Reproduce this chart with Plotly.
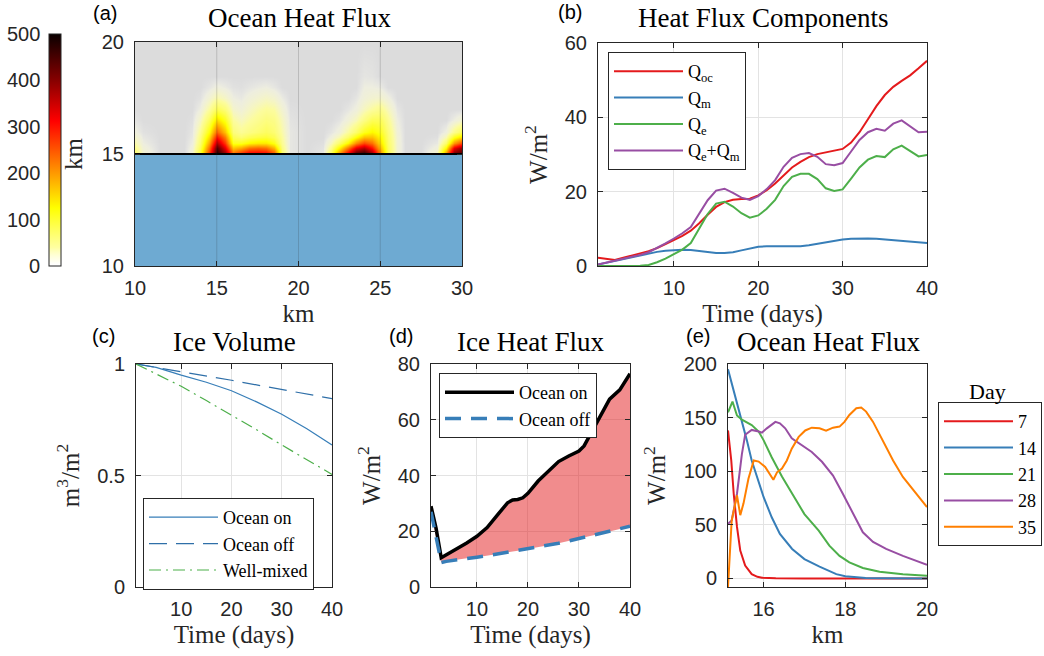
import plotly.graph_objects as go

W, H = 1044, 656

# ---------------- data ----------------
# (a) ocean heat flux field above the ice edge (W/m^2)
heat_x = [10.0, 10.5, 11.5, 13.0, 13.5, 14.0, 14.5, 15.0, 15.5, 16.0, 16.5, 17.0,
          17.5, 18.0, 18.5, 19.0, 19.5, 20.5, 21.5, 22.0, 22.5, 23.0, 23.5, 24.0,
          24.5, 25.0, 25.5, 26.0, 26.5, 27.5, 28.5, 29.0, 29.5, 30.0]
heat_y = [15.0, 15.25, 15.5, 15.75, 16.0, 16.5, 17.0, 17.5, 18.0, 18.5, 20.0]
heat_cols = [
    [70, 50, 35, 22, 12, 4, 0, 0, 0, 0, 0],           # 10.0
    [20, 15, 10, 6, 3, 0, 0, 0, 0, 0, 0],             # 10.5
    [0, 0, 0, 0, 0, 0, 0, 0, 0, 0, 0],                # 11.5
    [0, 0, 0, 0, 0, 0, 0, 0, 0, 0, 0],                # 13.0
    [18, 14, 10, 7, 5, 2, 0, 0, 0, 0, 0],             # 13.5
    [100, 80, 65, 55, 45, 25, 10, 3, 0, 0, 0],        # 14.0
    [270, 230, 190, 150, 120, 75, 40, 18, 5, 0, 0],   # 14.5
    [480, 440, 370, 300, 240, 150, 80, 35, 12, 0, 0], # 15.0
    [400, 330, 270, 220, 170, 110, 60, 25, 8, 0, 0],  # 15.5
    [240, 170, 110, 80, 60, 40, 22, 10, 3, 0, 0],     # 16.0
    [290, 190, 110, 65, 45, 28, 15, 7, 2, 0, 0],      # 16.5
    [330, 230, 130, 80, 55, 38, 25, 14, 5, 0, 0],     # 17.0
    [330, 240, 140, 90, 65, 48, 35, 20, 8, 0, 0],     # 17.5
    [320, 230, 140, 95, 75, 58, 42, 25, 10, 0, 0],    # 18.0
    [260, 180, 115, 80, 65, 52, 38, 20, 6, 0, 0],     # 18.5
    [70, 55, 45, 40, 35, 28, 18, 8, 0, 0, 0],         # 19.0
    [6, 6, 6, 6, 6, 4, 2, 0, 0, 0, 0],                # 19.5
    [0, 0, 0, 0, 0, 0, 0, 0, 0, 0, 0],                # 20.5
    [6, 4, 2, 0, 0, 0, 0, 0, 0, 0, 0],                # 21.5
    [80, 50, 28, 12, 5, 0, 0, 0, 0, 0, 0],            # 22.0
    [210, 130, 70, 32, 14, 4, 0, 0, 0, 0, 0],         # 22.5
    [330, 230, 130, 70, 40, 15, 5, 0, 0, 0, 0],       # 23.0
    [450, 330, 210, 120, 70, 30, 12, 5, 0, 0, 0],     # 23.5
    [480, 370, 260, 170, 110, 55, 28, 15, 10, 5, 0],  # 24.0
    [400, 300, 230, 170, 130, 80, 40, 20, 10, 4, 0],  # 24.5
    [220, 180, 150, 130, 110, 80, 50, 22, 8, 0, 0],   # 25.0
    [80, 75, 70, 65, 60, 45, 28, 12, 0, 0, 0],        # 25.5
    [18, 18, 18, 17, 15, 10, 5, 0, 0, 0, 0],          # 26.0
    [0, 0, 0, 0, 0, 0, 0, 0, 0, 0, 0],                # 26.5
    [0, 0, 0, 0, 0, 0, 0, 0, 0, 0, 0],                # 27.5
    [25, 14, 7, 2, 0, 0, 0, 0, 0, 0, 0],              # 28.5
    [210, 130, 70, 32, 12, 0, 0, 0, 0, 0, 0],         # 29.0
    [420, 330, 200, 110, 50, 10, 0, 0, 0, 0, 0],      # 29.5
    [450, 390, 260, 150, 80, 20, 0, 0, 0, 0, 0],      # 30.0
]
ice_x = [10, 30]
ice_edge = [15, 15]
cbar_ticks = [0, 100, 200, 300, 400, 500]

# (b) heat flux components
days = [1, 2, 3, 4, 5, 6, 7, 8, 9, 10, 11, 12, 13, 14, 15, 16, 17, 18, 19, 20,
        21, 22, 23, 24, 25, 26, 27, 28, 29, 30, 31, 32, 33, 34, 35, 36, 37, 38, 39, 40]
q_oc = [2.2, 1.8, 1.6, 2.2, 2.9, 3.4, 4.0, 4.8, 5.9, 7.0, 8.1, 9.5, 11.5, 13.8, 15.9,
        17.2, 17.8, 18.0, 18.1, 19.0, 20.4, 22.2, 24.4, 26.5, 28.0, 29.3, 30.1, 30.6,
        30.9, 31.5, 33.2, 36.0, 39.5, 43.0, 46.0, 48.2, 49.8, 51.3, 53.2, 55.2]
q_m = [0.4, 0.9, 1.4, 1.9, 2.4, 2.9, 3.4, 3.8, 4.1, 4.3, 4.4, 4.3, 4.0, 3.7, 3.5,
       3.5, 3.7, 4.2, 4.8, 5.2, 5.3, 5.3, 5.2, 5.1, 5.3, 5.6, 6.0, 6.5, 6.9, 7.1,
       7.3, 7.4, 7.4, 7.3, 7.1, 6.9, 6.8, 6.7, 6.5, 6.2]
q_e = [0.0, 0.0, 0.0, 0.0, 0.05, 0.1, 0.3, 1.0, 2.0, 3.1, 4.4, 6.2, 10.0, 14.0, 16.8,
       17.3, 16.0, 14.2, 13.0, 13.6, 15.4, 17.8, 21.5, 24.0, 24.8, 24.8, 23.4, 20.9,
       20.2, 20.6, 23.5, 26.5, 28.6, 29.6, 29.3, 31.4, 32.4, 31.0, 29.5, 29.9]
q_em = [0.4, 0.9, 1.4, 1.9, 2.5, 3.0, 3.7, 4.8, 6.1, 7.4, 8.8, 10.5, 14.0, 17.7, 20.3,
        20.8, 19.7, 18.4, 17.8, 18.8, 20.7, 23.1, 26.7, 29.1, 30.1, 30.4, 29.4, 27.4,
        27.1, 27.7, 30.8, 33.9, 36.0, 36.9, 36.4, 38.3, 39.2, 37.7, 36.0, 36.1]

# (c) ice volume
vol_days = [1, 5, 10, 15, 20, 25, 30, 35, 40]
vol_on = [1.0, 0.985, 0.95, 0.918, 0.88, 0.83, 0.775, 0.71, 0.637]
vol_off = [1.0, 0.985, 0.965, 0.947, 0.927, 0.906, 0.885, 0.865, 0.845]
vol_mixed = [1.0, 0.955, 0.9, 0.836, 0.772, 0.705, 0.637, 0.57, 0.505]

# (d) ice heat flux
ihf_days = [1, 2, 3, 4, 6, 8, 10, 12, 14, 16, 17, 18, 19, 20, 22, 24, 26, 28, 30,
            31, 32, 33, 34, 35, 36, 38, 40]
ihf_on = [29, 21, 10.5, 11.5, 13.6, 15.8, 18.2, 21.3, 25.8, 30.2, 31.2, 31.4, 32.0,
          33.6, 38.0, 41.7, 45.0, 47.0, 48.8, 50.6, 54.0, 57.3, 61.2, 64.5, 67.4, 70.7, 76.5]
ihf_off = [27, 18, 8.8, 9.2, 9.8, 10.3, 10.7, 11.2, 11.8, 12.4, 12.7, 13.0, 13.3,
           13.7, 14.3, 15.0, 15.7, 16.5, 17.4, 17.8, 18.2, 18.6, 19.0, 19.4, 19.9, 20.8, 21.8]

# (e) ocean heat flux profiles by day
km_d7 = [15.13, 15.21, 15.27, 15.35, 15.43, 15.55, 15.71, 15.85, 15.96, 16.3, 17.0, 20.0]
q_d7 = [138, 110, 79, 48, 26, 12, 4, 1.5, 0.6, 0.1, 0.0, 0.0]
km_d14 = [15.13, 15.31, 15.47, 15.59, 15.71, 15.88, 16.0, 16.2, 16.4, 16.7, 17.0,
          17.37, 17.78, 18.0, 18.5, 19.0, 20.0]
q_d14 = [195, 170, 148, 129, 110, 90, 76, 57, 41.5, 27.5, 18, 11, 4, 2, 0.5, 0.1, 0.0]
km_d21 = [15.13, 15.24, 15.35, 15.47, 15.71, 15.88, 16.0, 16.2, 16.45, 16.7, 17.0,
          17.35, 17.61, 17.86, 18.1, 18.43, 18.84, 19.41, 20.0]
q_d21 = [155, 165, 152, 148, 143, 137, 129, 113, 95, 79, 60, 44.5, 30.6, 21, 15,
         9.7, 6.3, 3.8, 2.5]
km_d28 = [15.13, 15.22, 15.35, 15.47, 15.55, 15.71, 15.88, 15.96, 16.08, 16.29, 16.4,
          16.53, 16.69, 16.94, 17.18, 17.43, 17.7, 17.94, 18.19, 18.43, 18.68, 19.0,
          19.41, 19.82, 20.0]
q_d28 = [51, 54, 79, 116, 134, 138.5, 137, 136, 140, 146, 144.7, 140, 130.6, 124, 118,
         108.8, 96, 79, 60, 43, 34, 27.5, 21, 15.6, 12.8]
km_d35 = [15.13, 15.18, 15.22, 15.35, 15.43, 15.51, 15.63, 15.76, 15.88, 16.04, 16.16,
          16.24, 16.33, 16.45, 16.57, 16.69, 16.86, 17.02, 17.18, 17.37, 17.53, 17.7,
          17.86, 17.98, 18.1, 18.27, 18.39, 18.51, 18.68, 18.92, 19.17, 19.41, 19.7, 20.0]
q_d35 = [-8, 29, 54, 77.5, 59, 70, 93, 110, 109, 104, 96, 92, 99, 102.5, 110, 121, 132,
         138, 140.6, 140, 137.8, 140.6, 141.6, 146, 152.5, 158.8, 159.4, 155.6, 146, 129,
         110, 94.7, 80.6, 66.6]
day_names = ["7", "14", "21", "28", "35"]

# ---------------- styling helpers ----------------
RED, BLUE, GREEN, PURPLE, ORANGE = "#e41a1c", "#377eb8", "#4daf4a", "#984ea3", "#ff7f00"
AX = "#262626"
SANS = "Liberation Sans"
SERIF = "Liberation Serif"


def dx(a, b):
    return [a / W, b / W]


def dy(top, bottom):
    return [1 - bottom / H, 1 - top / H]


def axis(domain, anchor, rng, tickvals, title=None, grid=True, standoff=6, ticktext=None,
         yaxis=False):
    d = dict(domain=domain, anchor=anchor, range=rng, tickvals=tickvals,
             showline=True, linecolor=AX, linewidth=1, mirror="allticks",
             ticks="inside", ticklen=5, tickwidth=1, tickcolor=AX,
             showgrid=grid, gridcolor="#e3e3e3", gridwidth=1, zeroline=False,
             tickfont=dict(family=SANS, size=20, color=AX), layer="above traces",
             automargin=False)
    if ticktext is not None:
        d["ticktext"] = ticktext
    d["ticklabelstandoff"] = 6 if yaxis else 4
    if title:
        d["title"] = dict(text=title, font=dict(family=SERIF, size=25, color=AX),
                          standoff=standoff)
    return d


fig = go.Figure()

# ---------------- (a) ----------------
heat_z = [[col[i] for col in heat_cols] for i in range(len(heat_y))]
hot_scale = [
    [0.0, "rgba(255,255,255,0)"],
    [0.02, "rgba(255,255,225,0.5)"],
    [0.08, "rgba(255,255,150,0.9)"],
    [0.25, "rgb(255,255,0)"],
    [0.4375, "rgb(255,128,0)"],
    [0.625, "rgb(255,0,0)"],
    [0.8, "rgb(135,0,0)"],
    [1.0, "rgb(10,0,0)"],
]
cb_top, cb_bottom = 34, 266
fig.add_trace(go.Heatmap(
    x=heat_x, y=heat_y, z=heat_z, zmin=0, zmax=500, zsmooth="best",
    colorscale=hot_scale, xaxis="x", yaxis="y", hoverinfo="skip",
    colorbar=dict(x=49 / W, xanchor="left", y=1 - cb_top / H, yanchor="top",
                  len=(cb_bottom - cb_top) / H, lenmode="fraction",
                  thickness=12, thicknessmode="pixels", outlinewidth=1,
                  outlinecolor=AX, showticklabels=False, ticks="", xpad=0, ypad=0),
))
fig.add_trace(go.Scatter(x=ice_x, y=ice_edge, mode="lines", fill="tozeroy",
                         fillcolor="#6eaad2", line=dict(color="black", width=2),
                         xaxis="x", yaxis="y", showlegend=False, hoverinfo="skip"))

# ---------------- (b) ----------------
for name, ys, col in [("Q<sub>oc</sub>", q_oc, RED), ("Q<sub>m</sub>", q_m, BLUE),
                      ("Q<sub>e</sub>", q_e, GREEN),
                      ("Q<sub>e</sub>+Q<sub>m</sub>", q_em, PURPLE)]:
    fig.add_trace(go.Scatter(x=days, y=ys, mode="lines", name=name,
                             line=dict(color=col, width=2), xaxis="x2", yaxis="y2",
                             legend="legend2"))

# ---------------- (c) ----------------
fig.add_trace(go.Scatter(x=vol_days, y=vol_on, mode="lines", name="Ocean on",
                         line=dict(color=BLUE, width=1.2), xaxis="x3", yaxis="y3",
                         legend="legend3"))
fig.add_trace(go.Scatter(x=vol_days, y=vol_off, mode="lines", name="Ocean off",
                         line=dict(color="#2f6fa8", width=1.2, dash="18px,9px"),
                         xaxis="x3", yaxis="y3", legend="legend3"))
fig.add_trace(go.Scatter(x=vol_days, y=vol_mixed, mode="lines", name="Well-mixed",
                         line=dict(color=GREEN, width=1.2, dash="12px,5px,2px,5px"),
                         xaxis="x3", yaxis="y3", legend="legend3"))

# ---------------- (d) ----------------
fig.add_trace(go.Scatter(x=ihf_days, y=ihf_off, mode="lines", line=dict(width=0),
                         xaxis="x4", yaxis="y4", showlegend=False, hoverinfo="skip"))
fig.add_trace(go.Scatter(x=ihf_days, y=ihf_on, mode="lines", line=dict(width=0),
                         fill="tonexty", fillcolor="rgba(228,26,28,0.5)",
                         xaxis="x4", yaxis="y4", showlegend=False, hoverinfo="skip"))
fig.add_trace(go.Scatter(x=ihf_days, y=ihf_on, mode="lines", name="Ocean on",
                         line=dict(color="black", width=3.5), xaxis="x4", yaxis="y4",
                         legend="legend4"))
fig.add_trace(go.Scatter(x=ihf_days, y=ihf_off, mode="lines", name="Ocean off",
                         line=dict(color=BLUE, width=3.5, dash="16px,10px"),
                         xaxis="x4", yaxis="y4", legend="legend4"))

# ---------------- (e) ----------------
for name, xs, ys, col in [(day_names[0], km_d7, q_d7, RED),
                          (day_names[1], km_d14, q_d14, BLUE),
                          (day_names[2], km_d21, q_d21, GREEN),
                          (day_names[3], km_d28, q_d28, PURPLE),
                          (day_names[4], km_d35, q_d35, ORANGE)]:
    fig.add_trace(go.Scatter(x=xs, y=ys, mode="lines", name=name,
                             line=dict(color=col, width=2), xaxis="x5", yaxis="y5",
                             legend="legend5"))

# ---------------- layout ----------------
leg_font = dict(family=SERIF, size=18, color="black")


def legend(xpx, ypx, item_w):
    return dict(x=xpx / W, y=1 - ypx / H, xanchor="left", yanchor="top",
                bgcolor="white", bordercolor=AX, borderwidth=1, font=leg_font,
                tracegroupgap=0, itemwidth=item_w)


x_a_ticks = [10, 15, 20, 25, 30]
shapes = [dict(type="line", xref="x", yref="y", x0=v, x1=v, y0=10, y1=20, layer="above",
               line=dict(color="rgba(38,38,38,0.18)", width=1)) for v in x_a_ticks[1:-1]]
shapes.insert(0, dict(type="rect", xref="x domain", yref="y domain", x0=0, x1=1, y0=0,
                      y1=1, layer="below", fillcolor="#dcdcdc", line=dict(width=0)))

annotations = []


def ann(text, xpx, ypx, size, family, xanchor="center"):
    annotations.append(dict(text=text, x=xpx / W, y=1 - ypx / H, xref="paper",
                            yref="paper", showarrow=False, xanchor=xanchor,
                            yanchor="middle", font=dict(family=family, size=size,
                                                        color="black")))


ann("Ocean Heat Flux", 299, 18, 27, SERIF)
ann("Heat Flux Components", 763, 18, 27, SERIF)
ann("Ice Volume", 234, 342, 27, SERIF)
ann("Ice Heat Flux", 530, 342, 27, SERIF)
ann("Ocean Heat Flux", 828, 342, 27, SERIF)
ann("(a)", 105, 13, 20, SANS)
ann("(b)", 570, 12, 20, SANS)
ann("(c)", 103, 336, 20, SANS)
ann("(d)", 401, 336, 20, SANS)
ann("(e)", 698, 336, 20, SANS)
ann("Day", 987, 391, 22, SERIF)
for v in cbar_ticks:
    ypx = cb_bottom - v / 500 * (cb_bottom - cb_top)
    annotations.append(dict(text=str(v), x=42 / W, y=1 - ypx / H, xref="paper",
                            yref="paper", showarrow=False, xanchor="right",
                            yanchor="middle", font=dict(family=SANS, size=20, color=AX)))

fig.update_layout(
    width=W, height=H, margin=dict(l=0, r=0, t=0, b=0, autoexpand=False),
    paper_bgcolor="white", plot_bgcolor="white",
    xaxis=axis(dx(135, 462), "y", [10, 30], x_a_ticks, "km", grid=False),
    yaxis=axis(dy(42, 266), "x", [10, 20], [10, 15, 20], "km", grid=False, yaxis=True,
               standoff=12),
    xaxis2=axis(dx(598, 927), "y2", [1, 40], [10, 20, 30, 40], "Time (days)"),
    yaxis2=axis(dy(43, 266), "x2", [0, 60], [0, 20, 40, 60], "W/m<sup>2</sup>",
                yaxis=True, standoff=10),
    xaxis3=axis(dx(136, 332), "y3", [1, 40], [10, 20, 30, 40], "Time (days)"),
    yaxis3=axis(dy(364, 587), "x3", [0, 1], [0, 0.5, 1], "m<sup>3</sup>/m<sup>2</sup>",
                ticktext=["0", "0.5", "1"], yaxis=True, standoff=10),
    xaxis4=axis(dx(431, 630), "y4", [1, 40], [10, 20, 30, 40], "Time (days)"),
    yaxis4=axis(dy(364, 587), "x4", [0, 80], [0, 20, 40, 60, 80], "W/m<sup>2</sup>",
                yaxis=True, standoff=10),
    xaxis5=axis(dx(728, 927), "y5", [15.13, 20], [16, 18, 20], "km"),
    yaxis5=axis(dy(364, 587), "x5", [-8, 200], [0, 50, 100, 150, 200], "W/m<sup>2</sup>",
                yaxis=True, standoff=10),
    legend2=legend(608, 52, 69),
    legend3=legend(143, 498, 69),
    legend4=legend(439, 373, 69),
    legend5=legend(938, 402, 69),
    shapes=shapes,
    annotations=annotations,
)

fig.write_html("out.html", config={"displayModeBar": False},
               post_script="document.body.style.margin='0';")
